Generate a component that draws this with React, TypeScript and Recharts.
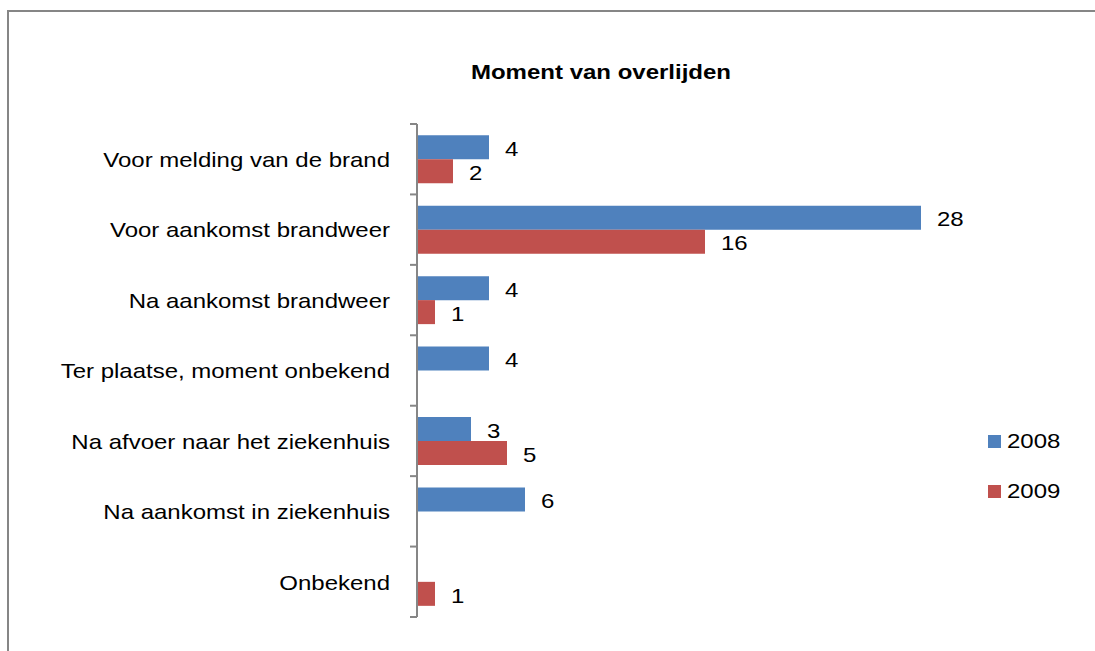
import React from "react";
import { BarChart, Bar, XAxis, YAxis, LabelList } from "recharts";

const categories = [
  "Voor melding van de brand",
  "Voor aankomst brandweer",
  "Na aankomst brandweer",
  "Ter plaatse, moment onbekend",
  "Na afvoer naar het ziekenhuis",
  "Na aankomst in ziekenhuis",
  "Onbekend",
];
const values2008 = [4, 28, 4, 4, 3, 6, null];
const values2009 = [2, 16, 1, null, 5, null, 1];
const seriesNames = ["2008", "2009"];

const data = categories.map((name, i) => ({
  name,
  y2008: values2008[i],
  y2009: values2009[i],
}));

const W = 1095;
const H = 651;
const MARGIN = { top: 124, right: 138, bottom: 34, left: 0 };
const AXIS_W = 417;
const FONT = "'Liberation Sans', Arial, Helvetica, sans-serif";
const BLUE = "#4F81BD";
const RED = "#C0504D";
const GRID = "#868686";
const STRETCH = 1.2; // source glyphs look horizontally stretched

const band = (H - MARGIN.top - MARGIN.bottom) / categories.length;

function CategoryTick(props: any) {
  const { y, payload, index } = props;
  const off = payload?.offset ?? band / 2;
  const last = index === categories.length - 1;
  return (
    <g>
      <line x1={AXIS_W - 7} x2={AXIS_W} y1={y - off} y2={y - off} stroke={GRID} strokeWidth={2} />
      {last && (
        <line x1={AXIS_W - 7} x2={AXIS_W} y1={y + off} y2={y + off} stroke={GRID} strokeWidth={2} />
      )}
      <text
        transform={`translate(${AXIS_W - 27}, ${y + 1}) scale(${STRETCH},1)`}
        textAnchor="end"
        dominantBaseline="central"
        fontFamily={FONT}
        fontSize={20}
        fill="#000"
      >
        {payload.value}
      </text>
    </g>
  );
}

function ValueLabel(props: any) {
  const { x, y, width, height, value } = props;
  if (value == null) return null;
  return (
    <text
      transform={`translate(${x + width + 16}, ${y + height / 2 + 2}) scale(${STRETCH},1)`}
      dominantBaseline="central"
      fontFamily={FONT}
      fontSize={20}
      fill="#000"
    >
      {value}
    </text>
  );
}

function LegendBox() {
  const colors = [BLUE, RED];
  return (
    <div style={{ position: "absolute", left: 988, top: 416, fontFamily: FONT, fontSize: 20 }}>
      {seriesNames.map((s, i) => (
        <div key={s} style={{ display: "flex", alignItems: "center", height: 50 }}>
          <span style={{ display: "inline-block", width: 13, height: 13, background: colors[i], marginRight: 6 }} />
          <span style={{ display: "inline-block", transform: `scaleX(${STRETCH})`, transformOrigin: "left center" }}>{s}</span>
        </div>
      ))}
    </div>
  );
}

export default function App() {
  return (
    <div style={{ position: "relative", width: W, height: H, overflow: "hidden", background: "#fff" }}>
      <style>{`html,body{margin:0;overflow:hidden}`}</style>
      {/* chart frame: only the top and left edges are in view */}
      <div style={{ position: "absolute", left: 7, top: 10, width: W - 7, height: 2, background: GRID }} />
      <div style={{ position: "absolute", left: 7, top: 10, width: 2, height: H - 10, background: GRID }} />
      <div
        style={{
          position: "absolute",
          left: 401,
          width: 400,
          top: 60,
          lineHeight: "24px",
          textAlign: "center",
          fontFamily: FONT,
          fontWeight: "bold",
          fontSize: 20,
          transform: `scaleX(${STRETCH})`,
        }}
      >
        Moment van overlijden
      </div>
      <div style={{ position: "absolute", left: 0, top: 0 }}>
        <BarChart
          width={W}
          height={H}
          data={data}
          layout="vertical"
          margin={MARGIN}
          barCategoryGap="16%"
          barGap={0}
        >
          <XAxis type="number" domain={[0, 30]} hide />
          <YAxis
            type="category"
            dataKey="name"
            width={AXIS_W}
            axisLine={{ stroke: GRID, strokeWidth: 2 }}
            tickLine={false}
            tick={<CategoryTick />}
            interval={0}
          />
          <Bar dataKey="y2008" name={seriesNames[0]} fill={BLUE} isAnimationActive={false}>
            <LabelList dataKey="y2008" content={<ValueLabel />} />
          </Bar>
          <Bar dataKey="y2009" name={seriesNames[1]} fill={RED} isAnimationActive={false}>
            <LabelList dataKey="y2009" content={<ValueLabel />} />
          </Bar>
        </BarChart>
      </div>
      <LegendBox />
    </div>
  );
}
